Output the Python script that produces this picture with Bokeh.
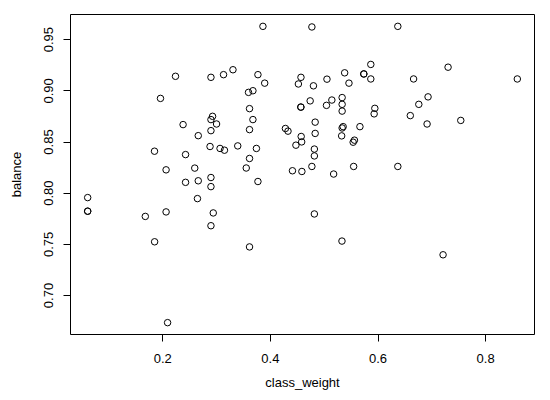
from bokeh.plotting import figure
from bokeh.models import Range1d, FixedTicker, ColumnDataSource
from bokeh.embed import file_html
from bokeh.resources import INLINE

class_weight = [
    0.0604, 0.0604, 0.0604, 0.1675, 0.1846, 0.1848, 0.1957, 0.2061, 0.2061, 0.2089,
    0.2236, 0.2377, 0.2423, 0.2423, 0.2594, 0.2659, 0.2659, 0.2644, 0.2895, 0.2925,
    0.2895, 0.2999, 0.2895, 0.2878, 0.3064, 0.3146, 0.2895, 0.2895, 0.2938, 0.2895,
    0.3129, 0.3304, 0.3393, 0.3551, 0.3593, 0.3675, 0.3612, 0.3675, 0.3612, 0.3740,
    0.3612, 0.3768, 0.3612, 0.3768, 0.3894, 0.3861, 0.4279, 0.4327, 0.4410, 0.4474,
    0.4520, 0.4568, 0.4566, 0.4566, 0.4572, 0.4581, 0.4585, 0.4739, 0.4771, 0.4771,
    0.4800, 0.4832, 0.4832, 0.4817, 0.4817, 0.4817, 0.5042, 0.5051, 0.5142, 0.5175,
    0.5333, 0.5333, 0.5333, 0.5333, 0.5352, 0.5324, 0.5330, 0.5380, 0.5460, 0.5538,
    0.5562, 0.5547, 0.5664, 0.5736, 0.5736, 0.5866, 0.5866, 0.5941, 0.5928, 0.6368,
    0.6368, 0.6600, 0.6661, 0.6758, 0.6912, 0.6930, 0.7209, 0.7302, 0.7538, 0.8589,
]
balance = [
    0.7957, 0.7824, 0.7824, 0.7773, 0.8410, 0.7525, 0.8926, 0.8228, 0.7817, 0.6735,
    0.9142, 0.8670, 0.8377, 0.8106, 0.8245, 0.8562, 0.8121, 0.7947, 0.9132, 0.8751,
    0.8719, 0.8676, 0.8611, 0.8456, 0.8437, 0.8420, 0.8153, 0.8064, 0.7807, 0.7682,
    0.9158, 0.9206, 0.8462, 0.8246, 0.8985, 0.9001, 0.8826, 0.8719, 0.8621, 0.8437,
    0.8339, 0.8114, 0.7475, 0.9158, 0.9075, 0.9630, 0.8632, 0.8606, 0.8219, 0.8469,
    0.9067, 0.9132, 0.8841, 0.8841, 0.8554, 0.8501, 0.8212, 0.8902, 0.9624, 0.8261,
    0.9049, 0.8694, 0.8584, 0.8431, 0.8364, 0.7797, 0.8858, 0.9114, 0.8910, 0.8187,
    0.8934, 0.8868, 0.8802, 0.8637, 0.8650, 0.8560, 0.7532, 0.9176, 0.9075, 0.8498,
    0.8518, 0.8261, 0.8650, 0.9165, 0.9165, 0.9258, 0.9116, 0.8829, 0.8775, 0.9630,
    0.8261, 0.8758, 0.9116, 0.8868, 0.8676, 0.8941, 0.7398, 0.9231, 0.8711, 0.9116,
]

x_ticks = [0.2, 0.4, 0.6, 0.8]
x_tick_labels = ["0.2", "0.4", "0.6", "0.8"]
y_ticks = [0.70, 0.75, 0.80, 0.85, 0.90, 0.95]
y_tick_labels = ["0.70", "0.75", "0.80", "0.85", "0.90", "0.95"]

x_label = "class_weight"
y_label = "balance"

def padded(vals, frac=0.04):
    lo, hi = min(vals), max(vals)
    d = (hi - lo) * frac
    return Range1d(lo - d, hi + d)

FONT = "Liberation Sans"

p = figure(width=542, height=392, output_backend="svg", toolbar_location=None,
           x_range=padded(class_weight), y_range=padded(balance),
           min_border_left=70, min_border_top=14, min_border_right=8, min_border_bottom=58)

p.background_fill_color = "white"
p.border_fill_color = "white"
p.outline_line_color = "black"
p.outline_line_width = 1
p.xgrid.grid_line_color = None
p.ygrid.grid_line_color = None

src = ColumnDataSource(dict(x=class_weight, y=balance))
p.scatter("x", "y", source=src, marker="circle", size=6.5,
          fill_color=None, line_color="black", line_width=1)

p.xaxis.ticker = FixedTicker(ticks=x_ticks)
p.yaxis.ticker = FixedTicker(ticks=y_ticks)
p.xaxis.major_label_overrides = {t: l for t, l in zip(x_ticks, x_tick_labels)}
p.yaxis.major_label_overrides = {t: l for t, l in zip(y_ticks, y_tick_labels)}
p.yaxis.major_label_orientation = "vertical"

for ax in (p.xaxis[0], p.yaxis[0]):
    ax.axis_line_color = None
    ax.major_tick_line_color = "black"
    ax.major_tick_in = 0
    ax.major_tick_out = 7
    ax.minor_tick_line_color = None
    ax.major_label_text_font = FONT
    ax.major_label_text_font_size = "13px"
    ax.major_label_text_color = "black"
    ax.axis_label_text_font = FONT
    ax.axis_label_text_font_size = "13px"
    ax.axis_label_text_font_style = "normal"
    ax.axis_label_text_color = "black"
    ax.major_label_standoff = 10

p.xaxis.major_label_standoff = 12
p.xaxis.axis_label = x_label
p.yaxis.axis_label = y_label
p.xaxis.axis_label_standoff = 9
p.yaxis.axis_label_standoff = 18

open("out.html", "w").write(file_html(p, INLINE))
